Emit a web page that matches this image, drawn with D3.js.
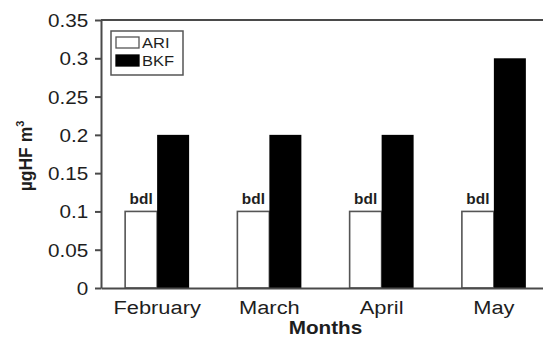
<!DOCTYPE html>
<html>
<head>
<meta charset="utf-8">
<script src="https://cdn.jsdelivr.net/npm/d3@7"></script>
<style>
  html, body { margin: 0; padding: 0; background: #fff; }
  svg { display: block; font-family: "Liberation Sans", Arial, Helvetica, sans-serif; }
</style>
</head>
<body>
<svg id="chart" width="543" height="338"></svg>
<script>
// Monthly HF concentrations at two sites
const months = ["February", "March", "April", "May"];
const sites = ["ARI", "BKF"];
const ariValues = [0.1, 0.1, 0.1, 0.1];
const bkfValues = [0.2, 0.2, 0.2, 0.3];
const ariLabels = ["bdl", "bdl", "bdl", "bdl"];
const yTicks = [0, 0.05, 0.1, 0.15, 0.2, 0.25, 0.3, 0.35];
const yTickLabels = ["0", "0.05", "0.1", "0.15", "0.2", "0.25", "0.3", "0.35"];

const svg = d3.select("#chart");
const plot = { left: 101, right: 550, top: 20, bottom: 288 };
const stretch = 1.15;
const axisColor = "#4a4a4a";
const textColor = "#1e1e1e";

const y = d3.scaleLinear().domain([0, 0.35]).range([plot.bottom, plot.top]);
const x0 = d3.scaleBand().domain(months).range([plot.left, plot.right])
  .paddingInner(0.43).paddingOuter(0.215);
const x1 = d3.scaleBand().domain(sites).range([0, x0.bandwidth()]);

const rows = months.map((m, i) => ({ month: m, ARI: ariValues[i], BKF: bkfValues[i], label: ariLabels[i] }));

// bars
const groups = svg.append("g").selectAll("g").data(rows).join("g")
  .attr("transform", d => `translate(${x0(d.month)},0)`);

groups.append("rect")
  .attr("x", x1("ARI")).attr("width", x1.bandwidth())
  .attr("y", d => y(d.ARI)).attr("height", d => y(0) - y(d.ARI))
  .attr("fill", "#fff").attr("stroke", "#555").attr("stroke-width", 1.6);

groups.append("rect")
  .attr("x", x1("BKF")).attr("width", x1.bandwidth())
  .attr("y", d => y(d.BKF)).attr("height", d => y(0) - y(d.BKF))
  .attr("fill", "#000");

groups.append("text")
  .attr("transform", d => `translate(${x1("ARI") + x1.bandwidth() / 2},${y(d.ARI) - 7}) scale(1.1,1)`)
  .attr("text-anchor", "middle")
  .attr("font-size", 14).attr("font-weight", "bold").attr("fill", textColor)
  .text(d => d.label);

// top frame line
svg.append("line")
  .attr("x1", plot.left).attr("x2", plot.right).attr("y1", y(0.35)).attr("y2", y(0.35))
  .attr("stroke", axisColor).attr("stroke-width", 2);

// y axis
const yAxis = svg.append("g").attr("transform", `translate(${plot.left},0)`)
  .call(d3.axisLeft(y).tickValues(yTicks).tickSize(6).tickSizeOuter(0).tickPadding(5)
    .tickFormat((d, i) => yTickLabels[i]));
yAxis.select(".domain").attr("stroke", axisColor).attr("stroke-width", 2);
yAxis.selectAll(".tick line").attr("stroke", axisColor).attr("stroke-width", 2);
yAxis.selectAll(".tick text")
  .attr("font-size", 18).attr("fill", textColor).attr("font-family", null)
  .attr("transform", `scale(${stretch},1)`).attr("dy", "0.36em");

// x axis
const xAxis = svg.append("g").attr("transform", `translate(0,${plot.bottom})`)
  .call(d3.axisBottom(x0).tickSize(0).tickSizeOuter(0).tickPadding(13));
xAxis.select(".domain").attr("stroke", axisColor).attr("stroke-width", 2);
xAxis.selectAll(".tick text")
  .attr("font-size", 19).attr("fill", textColor).attr("font-family", null)
  .attr("transform", `scale(${stretch},1)`);

// axis titles
svg.append("text")
  .attr("transform", `translate(${(plot.left + plot.right) / 2},${plot.bottom + 46}) scale(${stretch},1)`)
  .attr("text-anchor", "middle").attr("font-size", 18).attr("font-weight", "bold")
  .attr("fill", textColor).text("Months");

const yTitle = svg.append("text")
  .attr("transform", `translate(32,156) rotate(-90)`)
  .attr("text-anchor", "middle").attr("font-size", 17.5).attr("font-weight", "bold")
  .attr("fill", textColor);
yTitle.append("tspan").text("µgHF m");
yTitle.append("tspan").attr("font-size", 11).attr("dy", "-0.75em").text("3");

// legend
const legend = svg.append("g").attr("transform", "translate(111,31)");
legend.append("rect").attr("width", 72).attr("height", 44)
  .attr("fill", "#fff").attr("stroke", "#555").attr("stroke-width", 1.5);
const fills = { ARI: "#fff", BKF: "#000" };
sites.forEach((s, i) => {
  const row = legend.append("g").attr("transform", `translate(5,${6 + i * 18})`);
  row.append("rect").attr("width", 23).attr("height", 11)
    .attr("fill", fills[s]).attr("stroke", s === "ARI" ? "#555" : "#000").attr("stroke-width", 1.3);
  row.append("text")
    .attr("transform", `translate(26,11) scale(1.1,1)`)
    .attr("font-size", 15).attr("fill", textColor).text(s);
});
</script>
</body>
</html>
